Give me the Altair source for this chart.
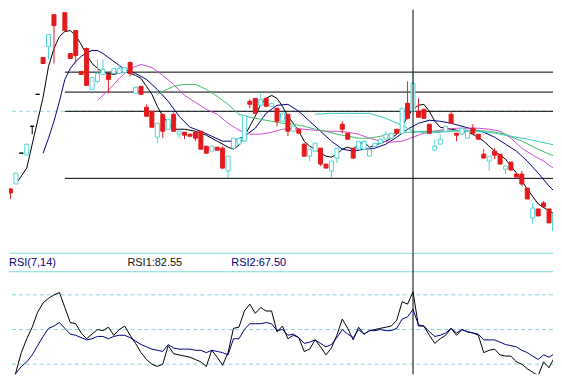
import altair as alt
import pandas as pd

# ---------------- candle data (price units) ----------------
opens  = [118,112,117,148,146,175,207,244,255,287,295,289,248,271,230,253,212,220,227,227,
          228,228,229,239,208,215,194,190,164,187,172,187,167,169,167,169,170,155,150,154,
          153,130,153,157,160,200,203,196,203,195,193,180,187,170,172,157,145,150,153,137,
          130,143,177,168,153,152,152,145,155,158,162,163,172,168,198,190,190,192,177,151,
          157,170,187,168,167,163,173,167,147,140,150,147,132,139,127,127,113,83,92,98,
          92,70,94]
highs  = [118,113,128,148,157,175,207,244,267,287,295,289,248,271,230,254,224,242,242,227,
          233,237,234,240,214,215,197,190,178,187,182,189,170,169,167,169,170,155,155,154,
          155,145,163,163,186,202,203,208,203,198,193,188,187,175,172,158,152,158,153,137,
          140,153,180,168,153,160,160,152,158,162,170,168,172,193,220,230,203,192,177,162,
          167,175,190,168,173,170,177,167,152,145,153,147,135,139,127,130,113,98,92,100,
          92,87,94]
lows   = [103,102,117,148,146,167,207,238,242,238,295,271,243,238,227,216,212,218,227,208,
          228,228,229,225,208,207,185,174,158,163,172,170,163,162,165,160,152,148,150,151,
          132,123,153,157,160,193,188,196,195,195,175,180,165,170,168,145,140,150,135,133,
          123,138,168,162,142,152,152,145,155,158,162,163,168,168,182,190,184,183,168,151,
          157,170,178,160,167,163,168,162,143,130,142,137,127,131,124,115,102,77,85,94,
          78,67,91]
closes = [113,108,128,148,157,175,207,238,267,276,295,271,243,246,227,216,224,228,232,222,
          233,233,234,228,214,207,185,174,178,170,182,170,170,166,165,163,152,148,155,151,
          133,145,163,163,186,197,188,202,195,198,180,188,170,175,168,145,152,158,137,133,
          140,153,172,162,143,160,160,152,158,162,167,168,168,193,183,218,184,183,168,155,
          162,175,178,166,173,170,168,162,143,145,146,137,135,131,124,117,102,93,85,94,
          78,87,91]

# Fibonacci-style level lines and the dashed reference price
fib_levels = [295, 229.3, 209.3, 190, 122.7]
fib_start = 11
ref_price = 190
cross_bar = 75

# ---------------- moving averages (bar index, value) ----------------
ma5 = [(2,117),(4,133),(5,157),(7,204),(8,235),(9,253),(10,265),(11,270),(12,271),(13,266),
       (14,257),(15,247),(16,238),(17,233),(18,229),(20,227),(22,230),(24,226),(25,223),(26,215),
       (27,207),(28,195),(29,185),(30,178),(31,172),(33,172),(35,170),(37,166),(39,160),(41,154),
       (42,152),(43,156),(44,165),(45,175),(46,185),(47,197),(48,203),(49,206),(50,203),(51,195),
       (52,185),(53,178),(54,170),(55,160),(56,155),(57,152),(58,148),(59,145),(60,144),(61,147),
       (62,152),(63,154),(64,152),(65,157),(66,159),(67,154),(68,156),(70,160),(71,163),(72,167),
       (73,175),(74,185),(75,192),(76,196),(77,197),(78,190),(79,180),(80,174),(82,172),(84,170),
       (86,167),(88,160),(90,150),(92,142),(94,128),(96,112),(98,97),(100,90),(101,87),(102,90)]
ma10 = [(7,148),(8,163),(9,180),(10,200),(11,222),(12,233),(13,240),(14,245),(15,249),(16,251),
        (17,251),(18,248),(20,240),(22,232),(24,228),(26,222),(28,212),(30,200),(32,185),(34,174),
        (36,170),(38,165),(40,160),(42,160),(44,165),(46,173),(48,188),(50,196),(52,197),(54,190),
        (56,180),(58,170),(60,160),(62,152),(64,150),(66,152),(68,153),(70,157),(72,164),(74,172),
        (76,178),(78,181),(80,180),(82,178),(84,175),(86,172),(88,169),(90,164),(92,157),(94,150),
        (96,140),(98,128),(100,115),(102,104)]
ma20 = [(17,201),(19,211),(21,223),(23,233),(25,237),(27,234),(29,226),(31,217),(33,206),(35,199),
        (37,192),(39,187),(41,178),(43,171),(45,167),(47,167),(49,169),(51,172),(53,173),(55,172),
        (57,171),(59,170),(61,170),(63,169),(65,167),(67,163),(69,160),(71,159),(73,160),(75,164),
        (77,168),(79,170),(81,172),(83,173),(85,173),(87,173),(89,172),(91,170),(93,163),(95,153),
        (97,146),(99,140),(101,132),(102,128)]
ma30 = [(28,207),(29,210),(31,215),(33,217),(35,217),(37,212),(39,205),(41,197),(43,187),(45,184),
        (47,182),(49,180),(51,178),(53,177),(55,175),(57,172),(59,170),(61,167),(63,165),(65,163),
        (67,163),(69,165),(71,167),(73,169),(75,169),(77,170),(81,170),(85,171),(89,170),(92,167),
        (95,160),(98,152),(100,147),(102,143)]
ma60 = [(57,187),(60,188),(63,188),(67,188),(70,183),(73,176),(75,170),(78,168),(82,170),(85,171),
        (90,168),(96,162),(102,155)]

# ---------------- RSI (bars 1..102) ----------------
rsi1 = [0,13,30,42,52,65,73,77,80,82,69,56,55,47,42,46,50,49,52,45,
        50,53,45,38,30,24,20,18,20,36,29,28,27,26,24,22,18,32,26,19,
        30,51,52,66,72,64,69,66,66,48,53,42,45,43,31,33,41,35,28,34,
        45,59,51,41,52,46,49,50,51,52,53,58,74,72,82.55,53,53,45,38,42,
        45,51,45,50,48,47,45,30,32,33,28,27,27,22,20,16,13,10,22,17,
        26,32]
rsi2 = [4,12,18,22,28,36,44,51,53,56,51,46,45,43,41,42,44,44,42,44,
        45,45,43,40,37,35,33,32,31,37,34,33,33,33,32,32,30,32,31,30,
        28,42,42,50,55,55,55,56,55,49,50,45,46,43,38,39,41,38,35,37,
        43,50,46,43,50,46,49,49,50,49,49,51,59,61,67.5,54,53,48,44,45,
        47,51,47,50,48,47,46,41,41,41,39,37,36,35,32,30,27,24,28,26,
        29,32]
rsi_levels = [80, 50, 20]
rsi_first_bar = 1

# ---------------- styling ----------------
RED = "#e31a1c"
CYAN = "#4fd6da"
FRAME = "#7fdcdc"
DASH = "#8cd6e0"
NAVY = "#000080"
W, HT, HB = 546, 244, 122
xs = alt.Scale(domain=[0.733, 100.73], nice=False, zero=False, padding=0)
ys = alt.Scale(domain=[48, 292], nice=False, zero=False, padding=0)
rs = alt.Scale(domain=[11.2, 116.4], nice=False, zero=False, padding=0)

n = len(opens)
candles = pd.DataFrame({"i": list(range(n)), "o": opens, "h": highs, "l": lows, "c": closes})
candles["kind"] = ["up" if c > o else ("down" if c < o else "flat") for o, c in zip(opens, closes)]
fill_scale = alt.Scale(domain=["up", "down", "flat"], range=["#ffffff", RED, "#000000"])
stroke_scale = alt.Scale(domain=["up", "down", "flat"], range=[CYAN, RED, "#000000"])

X = alt.X("i:Q", scale=xs, axis=None)

base = alt.Chart(candles)
wicks = base.mark_rule(strokeWidth=1, clip=True).encode(
    x=X, y=alt.Y("h:Q", scale=ys, axis=None), y2="l:Q",
    stroke=alt.Stroke("kind:N", scale=stroke_scale, legend=None))
bodies = base.mark_bar(size=4, strokeWidth=1, clip=True).encode(
    x=X, y=alt.Y("o:Q", scale=ys, axis=None), y2="c:Q",
    fill=alt.Fill("kind:N", scale=fill_scale, legend=None),
    stroke=alt.Stroke("kind:N", scale=stroke_scale, legend=None))

ma_names = ["MA5", "MA10", "MA20", "MA30", "MA60"]
ma_colors = ["#000000", NAVY, "#d24ad2", "#3cbe64", "#3cc8c0"]
ma_rows = []
for name, pts in zip(ma_names, [ma5, ma10, ma20, ma30, ma60]):
    for i, v in pts:
        ma_rows.append({"name": name, "i": i, "v": v})
ma_df = pd.DataFrame(ma_rows)
mas = alt.Chart(ma_df).mark_line(strokeWidth=1, clip=True).encode(
    x=X, y=alt.Y("v:Q", scale=ys, axis=None),
    color=alt.Color("name:N", scale=alt.Scale(domain=ma_names, range=ma_colors), legend=None),
    detail="name:N")

ref_line = alt.Chart(pd.DataFrame({"p": [ref_price]})).mark_rule(
    color=DASH, strokeWidth=1, strokeDash=[4, 3], clip=True).encode(
    y=alt.Y("p:Q", scale=ys, axis=None))

lv_df = pd.DataFrame({"p": fib_levels, "s": [fib_start] * len(fib_levels)})
levels = alt.Chart(lv_df).mark_rule(color="#000000", strokeWidth=1, clip=True).encode(
    x=alt.X("s:Q", scale=xs, axis=None), x2=alt.value(W),
    y=alt.Y("p:Q", scale=ys, axis=None))

cross_df = pd.DataFrame({"i": [cross_bar]})
cross_top = alt.Chart(cross_df).mark_rule(color="#000000", strokeWidth=1).encode(x=X)

top = alt.layer(ref_line, levels, mas, wicks, bodies, cross_top).properties(width=W, height=HT)

# ---------------- RSI panel ----------------
rsi_rows = []
for k, v in enumerate(rsi1):
    rsi_rows.append({"name": "RSI1", "i": rsi_first_bar + k, "v": v})
for k, v in enumerate(rsi2):
    rsi_rows.append({"name": "RSI2", "i": rsi_first_bar + k, "v": v})
rsi_df = pd.DataFrame(rsi_rows)
rsi_lines = alt.Chart(rsi_df).mark_line(strokeWidth=1, clip=True).encode(
    x=X, y=alt.Y("v:Q", scale=rs, axis=None),
    color=alt.Color("name:N", scale=alt.Scale(domain=["RSI1", "RSI2"], range=["#000000", NAVY]),
                    legend=None),
    detail="name:N")

frame = alt.Chart(pd.DataFrame({"p": [116, 100]})).mark_rule(color=FRAME, strokeWidth=1).encode(
    y=alt.Y("p:Q", scale=rs, axis=None))
dashes = alt.Chart(pd.DataFrame({"p": rsi_levels})).mark_rule(
    color=DASH, strokeWidth=1, strokeDash=[4, 3]).encode(y=alt.Y("p:Q", scale=rs, axis=None))

ci = cross_bar - rsi_first_bar
label_y = 107.8


def label(text, i, color):
    return alt.Chart(pd.DataFrame({"t": [text], "i": [i], "v": [label_y]})).mark_text(
        align="left", baseline="middle", font="Liberation Sans", fontSize=11, color=color
    ).encode(x=X, y=alt.Y("v:Q", scale=rs, axis=None), text="t:N")


lab0 = label("RSI(7,14)", 0.75, NAVY)
lab1 = label("RSI1:%.2f" % rsi1[ci], 22.5, "#111111")
lab2 = label("RSI2:%.2f" % rsi2[ci], 41.6, NAVY)
cross_bot = alt.Chart(cross_df).mark_rule(color="#000000", strokeWidth=1).encode(x=X)

bottom = alt.layer(frame, dashes, rsi_lines, lab0, lab1, lab2, cross_bot).properties(width=W, height=HB)

chart = alt.vconcat(top, bottom, spacing=0, bounds="flush").resolve_scale(
    color="independent", fill="independent", stroke="independent", y="independent"
).properties(padding=0, background="white").configure_view(stroke=None)

chart.save("out.html", embed_options={"renderer": "svg", "actions": False})
